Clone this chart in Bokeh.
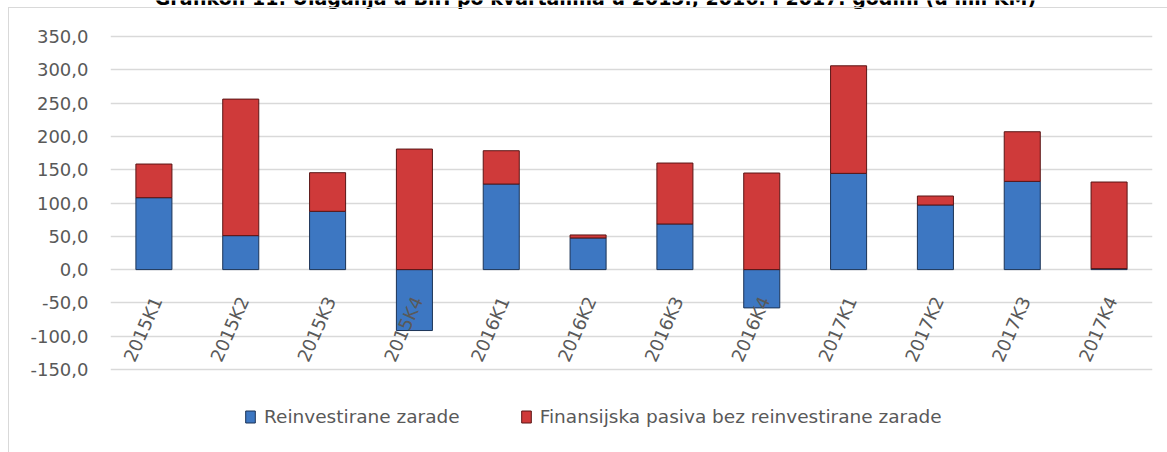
import math
from bokeh.plotting import figure
from bokeh.models import ColumnDataSource, Legend, LegendItem, Label
from bokeh.core.properties import value
from bokeh.embed import file_html
from bokeh.resources import INLINE

# ---- data ----
categories = ["2015K1", "2015K2", "2015K3", "2015K4",
              "2016K1", "2016K2", "2016K3", "2016K4",
              "2017K1", "2017K2", "2017K3", "2017K4"]
reinvestirane = [108.0, 51.0, 87.5, -91.5, 128.5, 47.5, 68.5, -57.5, 144.5, 97.0, 132.5, 1.5]
finansijska = [50.5, 205.0, 58.0, 181.0, 50.0, 4.5, 91.5, 145.0, 161.5, 13.5, 74.5, 130.0]
series_names = ["Reinvestirane zarade", "Finansijska pasiva bez reinvestirane zarade"]
y_ticks = [-150, -100, -50, 0, 50, 100, 150, 200, 250, 300, 350]
y_tick_labels = ["-150,0", "-100,0", "-50,0", "0,0", "50,0", "100,0",
                 "150,0", "200,0", "250,0", "300,0", "350,0"]
title_text = "Grafikon 11: Ulaganja u BiH po kvartalima u 2015., 2016. i 2017. godini (u mil KM)"

# ---- layout (pixels) ----
W, H = 1167, 452
LEFT, RIGHT = 110, 15          # plot area left / right borders
Y_TOP_PX, Y_BOT_PX = 36, 369   # pixel rows of the top and bottom gridlines
units_per_px = (y_ticks[-1] - y_ticks[0]) / (Y_BOT_PX - Y_TOP_PX)
y_hi = y_ticks[-1] + Y_TOP_PX * units_per_px
y_lo = y_ticks[0] - (H - Y_BOT_PX) * units_per_px

# ---- stacking (positives stack upward, negatives downward) ----
n = len(categories)
xs = list(range(n))
blue_bottom = [min(v, 0) for v in reinvestirane]
blue_top = [max(v, 0) for v in reinvestirane]
red_bottom = [max(v, 0) for v in reinvestirane]
red_top = [b + f for b, f in zip(red_bottom, finansijska)]

src = ColumnDataSource(dict(
    x=xs, cat=categories, zero=[0] * n,
    bb=blue_bottom, bt=blue_top, rb=red_bottom, rt=red_top,
))

p = figure(width=W, height=H,
           x_range=(-0.5, n - 0.5), y_range=(y_lo, y_hi),
           x_axis_location=None,
           output_backend="svg", toolbar_location=None,
           min_border_left=LEFT, min_border_right=RIGHT,
           min_border_top=0, min_border_bottom=0)
p.outline_line_color = None
p.background_fill_color = "white"
p.border_fill_color = "white"
p.xgrid.visible = False
# light grey frame of the chart area (left and top edges, as in the reference)
p.stylesheets = [
    ":host { position: relative; }"
    ":host::after { content: ''; position: absolute; left: 8px; top: 7px; right: 0; bottom: 0;"
    " border-left: 1px solid #d9d9d9; border-top: 1px solid #d9d9d9;"
    " pointer-events: none; z-index: 10; }"
]

# y axis
p.yaxis.ticker = y_ticks
p.yaxis.major_label_overrides = {t: l for t, l in zip(y_ticks, y_tick_labels)}
p.yaxis.axis_line_color = None
p.yaxis.major_tick_line_color = None
p.yaxis.minor_tick_line_color = None
p.yaxis.major_tick_out = 0
p.yaxis.major_tick_in = 0
p.yaxis.major_label_standoff = 22
p.yaxis.major_label_text_font = "DejaVu Sans"
p.yaxis.major_label_text_font_size = "18px"
p.yaxis.major_label_text_color = "#595959"
p.ygrid.ticker = y_ticks
p.ygrid.grid_line_color = "#d9d9d9"
p.ygrid.grid_line_width = 1.5

bar_w = 0.415
r_blue = p.vbar(x="x", bottom="bb", top="bt", width=bar_w, source=src,
                fill_color="#3d77c2", line_color="#1b3356", line_width=1)
r_red = p.vbar(x="x", bottom="rb", top="rt", width=bar_w, source=src,
               fill_color="#cf3a3a", line_color="#5a1515", line_width=1)

# category labels hanging from the zero line
p.text(x="x", y="zero", text="cat", source=src,
       angle=math.radians(66), text_align="right", text_baseline="middle",
       x_offset=3, y_offset=28,
       text_font=value("DejaVu Sans"), text_font_size="18px", text_color="#595959")

# title (cut off by the top edge of the picture, as in the reference)
p.add_layout(Label(x=5.085, y=y_ticks[-1] + 39 * units_per_px, text=title_text,
                   text_align="center", text_baseline="alphabetic",
                   text_font="DejaVu Sans", text_font_style="bold",
                   text_font_size="19px", text_color="#000000"))

legend = Legend(items=[LegendItem(label=series_names[0], renderers=[r_blue]),
                       LegendItem(label=series_names[1], renderers=[r_red])],
                orientation="horizontal", location=(134, 25),
                padding=0, margin=0, border_line_color=None,
                background_fill_alpha=0,
                glyph_width=12, glyph_height=15, label_height=15,
                label_standoff=8, spacing=60,
                label_text_font="DejaVu Sans", label_text_font_size="18.5px",
                label_text_color="#595959", label_text_baseline="middle")
p.add_layout(legend, "center")

open("out.html", "w").write(file_html(p, INLINE))
